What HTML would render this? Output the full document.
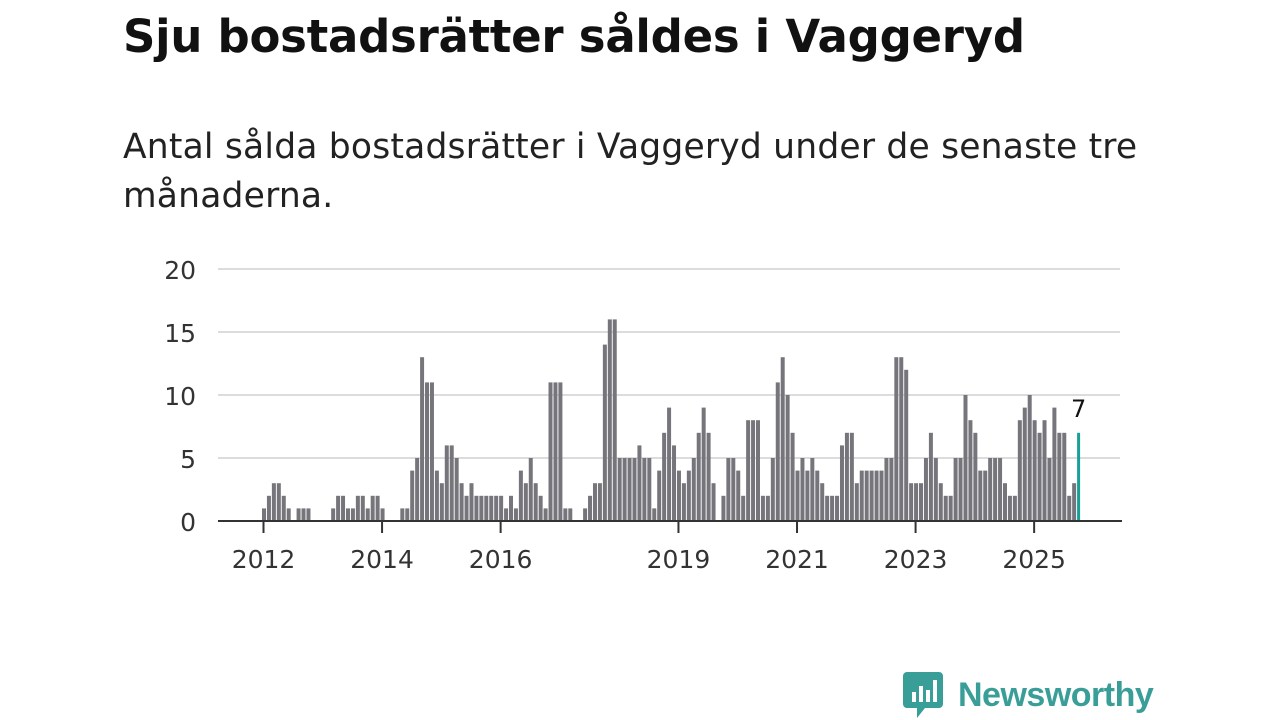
<!DOCTYPE html>
<html><head><meta charset="utf-8">
<style>
body{margin:0;width:1280px;height:720px;background:#fff;overflow:hidden;font-family:"Liberation Sans",sans-serif;color:#111;}
#title{position:absolute;left:123px;top:10px;font-size:45px;font-weight:bold;white-space:nowrap;font-family:"DejaVu Sans",sans-serif;letter-spacing:-0.25px;}
#sub{position:absolute;left:123px;top:123px;font-size:34.5px;line-height:49px;width:1100px;color:#222;font-family:"DejaVu Sans",sans-serif;letter-spacing:0.2px;}
svg{position:absolute;left:0;top:0;}
</style></head><body>
<div id="title">Sju bostadsrätter såldes i Vaggeryd</div>
<div id="sub">Antal sålda bostadsrätter i Vaggeryd under de senaste tre<br>månaderna.</div>
<svg id="chart" width="1280" height="720"></svg>
<script>
const startYear = 2012;
const values = [1,2,3,3,2,1,0,1,1,1,0,0,0,0,1,2,2,1,1,2,2,1,2,2,1,0,0,0,1,1,4,5,13,11,11,4,
3,6,6,5,3,2,3,2,2,2,2,2,2,1,2,1,4,3,5,3,2,1,11,11,11,1,1,0,0,1,2,3,3,14,16,16,
5,5,5,5,6,5,5,1,4,7,9,6,4,3,4,5,7,9,7,3,0,2,5,5,4,2,8,8,8,2,2,5,11,13,10,7,
4,5,4,5,4,3,2,2,2,6,7,7,3,4,4,4,4,4,5,5,13,13,12,3,3,3,5,7,5,3,2,2,5,5,10,8,
7,4,4,5,5,5,3,2,2,8,9,10,8,7,8,5,9,7,7,2,3,7];
const yTicks = [0,5,10,15,20];
const xTickYears = [2012,2014,2016,2019,2021,2023,2025];

const svg = document.getElementById('chart');
const NS = 'http://www.w3.org/2000/svg';
const x0 = 262, monthW = 4.94, y0 = 521, yUnit = 12.6;
const FONT = 'DejaVu Sans, sans-serif';
const xScale = m => x0 + m * monthW;
const yScale = v => y0 - v * yUnit;
function mk(tag, attrs){const e=document.createElementNS(NS,tag);for(const k in attrs)e.setAttribute(k,attrs[k]);svg.appendChild(e);return e;}

yTicks.forEach(t=>{
  if(t>0){const g=mk('line',{x1:218,x2:1120,y1:yScale(t),y2:yScale(t),stroke:'#dcdcdc','stroke-width':2});
  
  }
  const l=mk('text',{x:196,y:yScale(t)+10,'text-anchor':'end','font-size':25,fill:'#333','font-family':FONT});
  l.textContent=t;
  
  
});

values.forEach((v,i)=>{
  const last = i===values.length-1;
  const r=mk('rect',{x:xScale(i),y:yScale(v),width:last?3:4,height:v*yUnit,fill:last?'#1a9e98':'#76757b'});
  
  
});

const ax=mk('line',{x1:218,x2:1122,y1:y0,y2:y0,stroke:'#333','stroke-width':2});



xTickYears.forEach(yr=>{
  const xm = xScale((yr-startYear)*12)+1.5;
  const t=mk('line',{x1:xm,x2:xm,y1:y0,y2:y0+12,stroke:'#333','stroke-width':2});
  
  
  const l=mk('text',{x:xm,y:568,'text-anchor':'middle','font-size':25,fill:'#333','font-family':FONT});
  l.textContent=yr;
  
  
});

const li=values.length-1;
const vl=mk('text',{x:xScale(li)+1.5,y:yScale(values[li])-16,'text-anchor':'middle','font-size':24,fill:'#111','font-family':FONT});
vl.textContent=values[li];


</script>
<div style="position:absolute;left:903px;top:672px;display:flex;align-items:center;">
  <svg width="40" height="46" viewBox="0 0 40 46" style="position:static">
    <path d="M4 0H36a4 4 0 0 1 4 4V32a4 4 0 0 1-4 4H22L14 46V36H4a4 4 0 0 1-4-4V4a4 4 0 0 1 4-4z" fill="#3a9e98"/>
    <rect x="9" y="20" width="4" height="10" fill="#fff"/><rect x="16" y="14" width="4" height="16" fill="#fff"/><rect x="23" y="18" width="4" height="12" fill="#fff"/><rect x="30" y="8" width="4" height="22" fill="#fff"/>
  </svg>
  <span style="margin-left:15px;font-size:34px;font-weight:bold;color:#3a9e98;letter-spacing:-0.5px">Newsworthy</span>
</div>
</body></html>
